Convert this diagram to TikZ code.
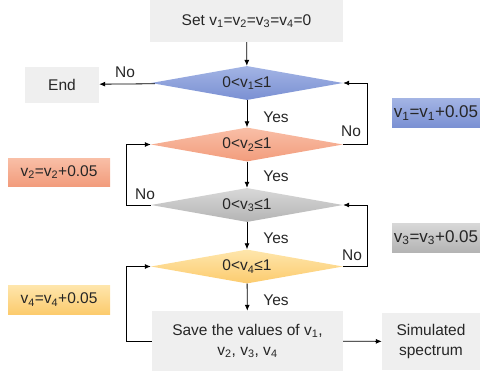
\documentclass[tikz,border=0pt]{standalone}
\usepackage{fontspec}
\setmainfont{Liberation Sans}
\usetikzlibrary{shapes.geometric,arrows.meta}
\definecolor{txt}{HTML}{262626}
\definecolor{boxgrey}{HTML}{EFEFEF}
\definecolor{blueT}{HTML}{A3B4E4}
\definecolor{blueB}{HTML}{7A90D3}
\definecolor{salT}{HTML}{F9BFA7}
\definecolor{salB}{HTML}{F29C7C}
\definecolor{greyT}{HTML}{D8D8D8}
\definecolor{greyB}{HTML}{B4B4B4}
\definecolor{yelT}{HTML}{FEE6AC}
\definecolor{yelB}{HTML}{FCCB6E}
\newcommand{\sbs}[1]{\textsubscript{#1}}
\begin{document}
\begin{tikzpicture}[x=1pt,y=-1pt,
  every node/.style={font=\fontsize{15.5}{20}\selectfont, text=txt},
  decision/.style={diamond, minimum width=192pt, minimum height=34pt, inner sep=0pt, shape aspect=5.6},
  plainbox/.style={rectangle, fill=boxgrey, inner sep=0pt, align=center},
  incbox/.style={rectangle, inner sep=0pt},
  bigtext/.style={font=\fontsize{17}{20}\selectfont},
  blueshade/.style={top color=blueT, bottom color=blueB},
  salshade/.style={top color=salT, bottom color=salB},
  greyshade/.style={top color=greyT, bottom color=greyB},
  yelshade/.style={top color=yelT, bottom color=yelB},
  flow/.style={draw=black, line width=0.8pt, -{Latex[length=6pt,width=5pt]}},
  lbl/.style={inner sep=0pt}]
\useasboundingbox (0,0) rectangle (480,372);

\node[plainbox, minimum width=193pt, minimum height=42pt] (init) at (246.5,21) {Set v\sbs{1}=v\sbs{2}=v\sbs{3}=v\sbs{4}=0};
\node[decision, blueshade] (d1) at (247,83) {0<v\sbs{1}≤1};
\node[decision, salshade] (d2) at (247,144.5) {0<v\sbs{2}≤1};
\node[decision, greyshade] (d3) at (247,205) {0<v\sbs{3}≤1};
\node[decision, yelshade] (d4) at (247,266.5) {0<v\sbs{4}≤1};

\node[plainbox, minimum width=74pt, minimum height=36pt] (end) at (62,84.5) {End};
\node[incbox, blueshade, bigtext, minimum width=88pt, minimum height=29pt] (inc1) at (436,113) {v\sbs{1}=v\sbs{1}+0.05};
\node[incbox, salshade, minimum width=102pt, minimum height=28pt] (inc2) at (59,172) {v\sbs{2}=v\sbs{2}+0.05};
\node[incbox, greyshade, bigtext, minimum width=88pt, minimum height=29pt] (inc3) at (436,237.5) {v\sbs{3}=v\sbs{3}+0.05};
\node[incbox, yelshade, minimum width=102pt, minimum height=29pt] (inc4) at (59,299.5) {v\sbs{4}=v\sbs{4}+0.05};

\node[plainbox, minimum width=191pt, minimum height=60pt] (save) at (247.5,341) {Save the values of v\sbs{1},\\ v\sbs{2}, v\sbs{3}, v\sbs{4}};
\node[plainbox, minimum width=98pt, minimum height=57pt] (sim) at (431,341.5) {Simulated\\spectrum};

\draw[flow] (init) -- (d1);
\draw[flow] (d1) -- (end);
\draw[flow] (d1) -- (d2);
\draw[flow] (d2) -- (d3);
\draw[flow] (d3) -- (d4);
\draw[flow] (d4) -- (save);
\draw[flow] (save) -- (sim);
\draw[flow] (d2.east) -- ++(24,0) |- (d1.east);
\draw[flow] (d3.west) -- ++(-24,0) |- (d2.west);
\draw[flow] (d4.east) -- ++(24,0) |- (d3.east);
\draw[flow] (save.west) -- ++(-25,0) |- (d4.west);

\node[lbl] (no1) at (125,72) {No};
\node[lbl] (no2) at (351,131) {No};
\node[lbl] (no3) at (145,194) {No};
\node[lbl] (no4) at (352,255) {No};
\node[lbl] (yes1) at (276,117) {Yes};
\node[lbl] (yes2) at (276,176) {Yes};
\node[lbl] (yes3) at (276,238) {Yes};
\node[lbl] (yes4) at (276,300) {Yes};
\end{tikzpicture}
\end{document}
